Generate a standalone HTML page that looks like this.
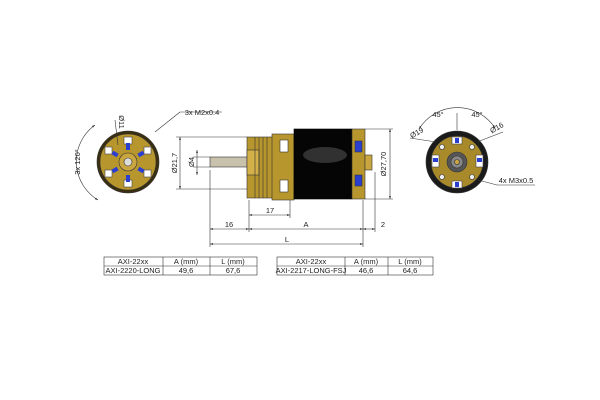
<!DOCTYPE html>
<html><head><style>body{margin:0;background:#fff}svg{display:block}text{font-family:"Liberation Sans",sans-serif;fill:#222}</style></head><body>
<svg width="600" height="400" viewBox="0 0 600 400" xmlns="http://www.w3.org/2000/svg">
<defs><marker id="a" viewBox="0 0 10 10" refX="10" refY="5" markerWidth="5" markerHeight="5" orient="auto-start-reverse"><path d="M0,2L10,5L0,8z" fill="#222"/></marker></defs>
<g stroke="#333" stroke-width="0.6" fill="none">
<!-- left front view -->
<circle cx="128" cy="162" r="31" fill="#3a2e10"/>
<circle cx="128" cy="162" r="28" fill="#b8962e"/>
<g fill="#fff" stroke="#444">
<rect x="124" y="137" width="8" height="7"/><rect x="124" y="180" width="8" height="7"/>
<rect x="105" y="147" width="7" height="7"/><rect x="144" y="147" width="7" height="7"/>
<rect x="105" y="170" width="7" height="7"/><rect x="144" y="170" width="7" height="7"/>
</g>
<g fill="#2a3fd0" stroke="none">
<rect x="126" y="143" width="4" height="7"/><rect x="126" y="175" width="4" height="7"/>
<rect x="112" y="152" width="6" height="4" transform="rotate(30 115 154)"/><rect x="138" y="152" width="6" height="4" transform="rotate(-30 141 154)"/>
<rect x="112" y="168" width="6" height="4" transform="rotate(-30 115 170)"/><rect x="138" y="168" width="6" height="4" transform="rotate(30 141 170)"/>
</g>
<circle cx="128" cy="162" r="9" fill="#c9a640"/><circle cx="128" cy="162" r="4" fill="#ddd"/>
<path d="M95,125 A45,45 0 0 0 98,200" marker-start="url(#a)" marker-end="url(#a)"/>
<line x1="155" y1="132" x2="180" y2="112"/><line x1="180" y1="112" x2="222" y2="112"/>
<line x1="115" y1="120" x2="118" y2="145"/>
<!-- side view -->
<rect x="210" y="157" width="38" height="10" fill="#c8c2ad"/>
<rect x="247" y="137" width="46" height="61" fill="#b8962e"/>
<rect x="247" y="150" width="12" height="25" fill="#d4b048"/>
<line x1="255" y1="137" x2="255" y2="198"/><line x1="259" y1="137" x2="259" y2="198"/><line x1="263" y1="137" x2="263" y2="198"/><line x1="267" y1="137" x2="267" y2="198"/>
<rect x="272" y="134" width="22" height="66" fill="#b8962e"/>
<rect x="280" y="140" width="8" height="12" fill="#fff"/><rect x="280" y="180" width="8" height="12" fill="#fff"/>
<rect x="294" y="129" width="58" height="70" fill="#050505" stroke="#000"/>
<ellipse cx="325" cy="155" rx="22" ry="8" fill="#444" stroke="none" opacity="0.7"/>
<rect x="352" y="129" width="13" height="70" fill="#b8962e"/>
<rect x="355" y="141" width="7" height="11" fill="#2a3fd0"/><rect x="355" y="175" width="7" height="11" fill="#2a3fd0"/>
<rect x="365" y="155" width="7" height="15" fill="#c9a640"/>
<!-- dims -->
<line x1="180" y1="137" x2="180" y2="189" marker-start="url(#a)" marker-end="url(#a)"/>
<line x1="176" y1="137" x2="247" y2="137"/><line x1="176" y1="189" x2="247" y2="189"/>
<line x1="197" y1="150" x2="197" y2="175" marker-start="url(#a)" marker-end="url(#a)"/>
<line x1="193" y1="157" x2="210" y2="157"/><line x1="193" y1="167" x2="210" y2="167"/>
<line x1="390" y1="129" x2="390" y2="199" marker-start="url(#a)" marker-end="url(#a)"/>
<line x1="365" y1="129" x2="393" y2="129"/><line x1="365" y1="199" x2="393" y2="199"/>
<line x1="210" y1="170" x2="210" y2="247"/><line x1="249" y1="200" x2="249" y2="232"/>
<line x1="290" y1="200" x2="290" y2="218"/><line x1="363" y1="200" x2="363" y2="247"/><line x1="375" y1="172" x2="375" y2="232"/>
<line x1="249" y1="215" x2="290" y2="215" marker-start="url(#a)" marker-end="url(#a)"/>
<line x1="210" y1="229" x2="249" y2="229" marker-start="url(#a)" marker-end="url(#a)"/>
<line x1="249" y1="229" x2="363" y2="229" marker-start="url(#a)" marker-end="url(#a)"/>
<line x1="363" y1="229" x2="375" y2="229" marker-start="url(#a)" marker-end="url(#a)"/>
<line x1="210" y1="244" x2="363" y2="244" marker-start="url(#a)" marker-end="url(#a)"/>
<!-- right view -->
<circle cx="457" cy="162" r="31" fill="#1a1a1a"/>
<circle cx="457" cy="162" r="26" fill="#a88a2a"/>
<g fill="#fff" stroke="#444"><rect x="452" y="137" width="10" height="7"/><rect x="452" y="181" width="10" height="7"/><rect x="432" y="155" width="7" height="12"/><rect x="476" y="155" width="7" height="12"/></g>
<g fill="#2a3fd0" stroke="none"><rect x="455" y="138" width="4" height="5"/><rect x="455" y="182" width="4" height="5"/><rect x="433" y="158" width="5" height="4"/><rect x="477" y="158" width="5" height="4"/></g>
<g fill="#eee"><circle cx="442" cy="147" r="2.5"/><circle cx="472" cy="147" r="2.5"/><circle cx="442" cy="177" r="2.5"/><circle cx="472" cy="177" r="2.5"/></g>
<circle cx="457" cy="162" r="10" fill="#555"/><circle cx="457" cy="162" r="6" fill="#888"/><circle cx="457" cy="162" r="2.5" fill="#c9a640"/>
<path d="M419,129 A45,45 0 0 1 495,128" marker-start="url(#a)" marker-end="url(#a)"/>
<line x1="457" y1="113" x2="457" y2="130"/>
<line x1="410" y1="138" x2="436" y2="142"/><line x1="503" y1="132" x2="477" y2="142"/>
<line x1="478" y1="180" x2="497" y2="185"/><line x1="497" y1="185" x2="535" y2="185"/>
<!-- tables -->
<rect x="104" y="257" width="153" height="18"/><line x1="104" y1="266" x2="257" y2="266"/><line x1="163" y1="257" x2="163" y2="275"/><line x1="210" y1="257" x2="210" y2="275"/>
<rect x="277" y="257" width="156" height="18"/><line x1="277" y1="266" x2="433" y2="266"/><line x1="345" y1="257" x2="345" y2="275"/><line x1="388" y1="257" x2="388" y2="275"/>
</g>
<g font-size="7.5" text-anchor="middle">
<text x="202" y="115">3x M2x0.4</text>
<text x="119" y="122" transform="rotate(90 119 122)">Ø11</text>
<text x="80" y="162" transform="rotate(-90 80 162)">3x 120°</text>
<text x="177" y="163" transform="rotate(-90 177 163)">Ø21,7</text>
<text x="194" y="162" transform="rotate(-90 194 162)">Ø4</text>
<text x="386" y="164" transform="rotate(-90 386 164)">Ø27,70</text>
<text x="270" y="213">17</text><text x="229" y="227">16</text><text x="306" y="227">A</text><text x="383" y="227">2</text><text x="287" y="242">L</text>
<text x="438" y="117">45°</text><text x="477" y="117">45°</text>
<text x="418" y="135" transform="rotate(-30 418 135)">Ø19</text><text x="498" y="130" transform="rotate(-30 498 130)">Ø16</text>
<text x="516" y="183">4x M3x0.5</text>
<text x="133" y="264">AXI-22xx</text><text x="186" y="264">A (mm)</text><text x="233" y="264">L (mm)</text>
<text x="133" y="273">AXI-2220-LONG</text><text x="186" y="273">49,6</text><text x="233" y="273">67,6</text>
<text x="311" y="264">AXI-22xx</text><text x="366" y="264">A (mm)</text><text x="410" y="264">L (mm)</text>
<text x="311" y="273">AXI-2217-LONG-FSJ</text><text x="366" y="273">46,6</text><text x="410" y="273">64,6</text>
</g>
</svg>
</body></html>
